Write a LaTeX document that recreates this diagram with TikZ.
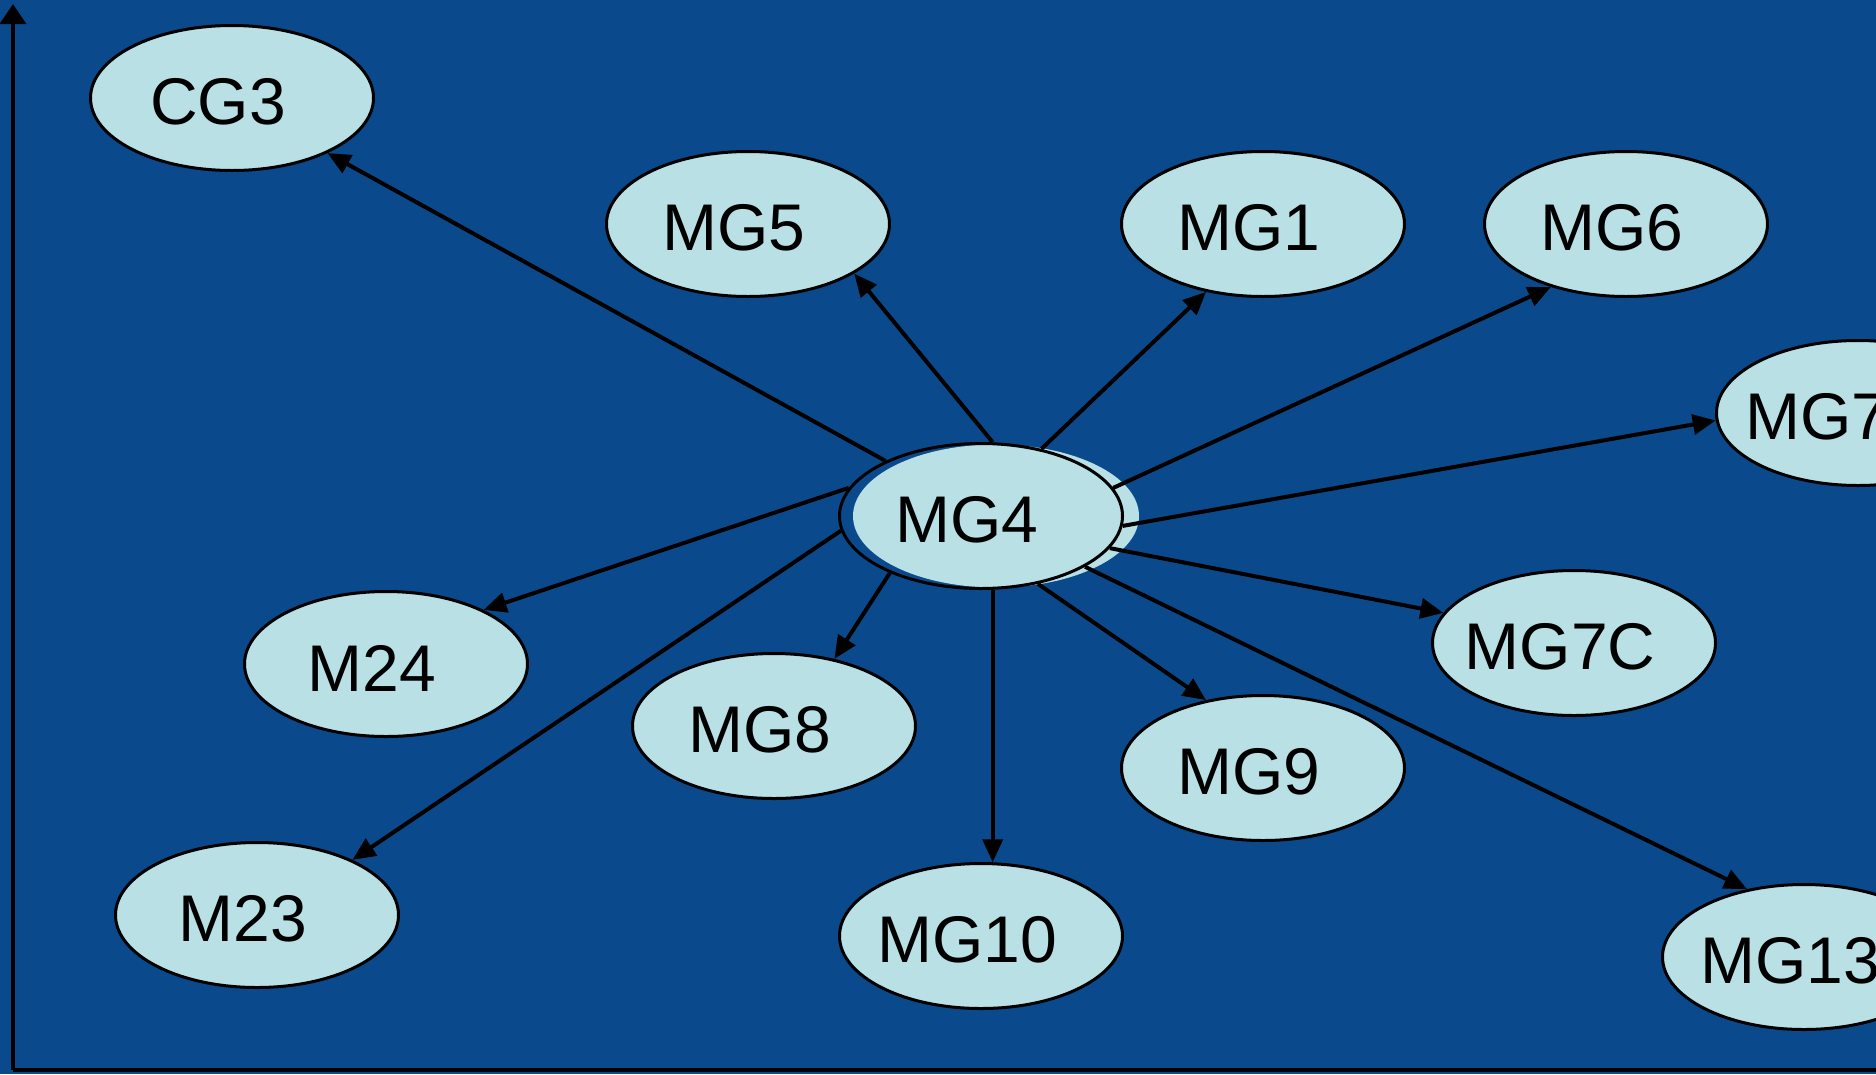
\documentclass[tikz,border=0pt]{standalone}
\usepackage{fontspec}
\setmainfont{Liberation Sans}
\usetikzlibrary{shapes.geometric,arrows.meta}
\definecolor{bgblue}{RGB}{10,74,140}
\definecolor{nodefill}{RGB}{185,224,228}
\newcommand\nlab[2][-28pt]{\hspace*{#1}\raisebox{-4pt}[\height][\depth]{#2}}
\tikzset{
  gnode/.style={ellipse, draw=black, line width=3pt, fill=nodefill,
    minimum width=283pt, minimum height=145pt, inner sep=0pt,
    font=\fontsize{66}{70}\selectfont},
  gfill/.style={ellipse, fill=nodefill, draw=none,
    minimum width=286pt, minimum height=143pt, inner sep=0pt},
  conn/.style={line width=4pt, -{Triangle[length=23pt,width=20pt]}},
  axisline/.style={line width=3.5pt}
}
\begin{document}
\begin{tikzpicture}[x=1pt,y=-1pt]
\useasboundingbox (0,0) rectangle (1876,1074);
\clip (0,0) rectangle (1876,1074);
\fill[bgblue] (0,0) rectangle (1876,1074);
% axes
\coordinate (origin) at (13,1070);
\coordinate (ytop) at (13,4);
\coordinate (xend) at (1890,1070);
\draw[axisline, -{Triangle[length=20pt,width=26pt]}] (origin) -- (ytop);
\draw[axisline] (origin) -- (xend);
% nodes
\node[gnode] (cg3)  at (232,98)  {\nlab{CG3}};
\node[gnode] (mg5)  at (748,224) {\nlab{MG5}};
\node[gnode] (mg1)  at (1263,224) {\nlab{MG1}};
\node[gnode] (mg6)  at (1626,224) {\nlab{MG6}};
\node[gnode] (mg7)  at (1858,413) {\nlab[-82pt]{MG7}};
\node[gnode] (m24)  at (386,664) {\nlab{M24}};
\node[gnode] (mg8)  at (774,726) {\nlab{MG8}};
\node[gnode] (mg7c) at (1574,643) {\nlab{MG7C}};
\node[gnode] (mg9)  at (1263,768) {\nlab{MG9}};
\node[gnode] (m23)  at (257,915) {\nlab{M23}};
\node[gnode] (mg10) at (981,936) {\nlab{MG10}};
\node[gnode] (mg13) at (1804,957) {\nlab{MG13}};
% central node: offset fill and outline
\node[gfill] (mg4fill) at (996,516) {};
\node[gnode, fill=none] (mg4) at (981,516) {\nlab{MG4}};
% connectors
\draw[conn] (mg4.150) -- (cg3.-30);
\draw[conn] (mg4.81) -- (mg5.-25);
\draw[conn] (mg4.48) -- (mg1.-130);
\draw[conn] (mg4.12) -- (mg6.-140);
\draw[conn] (mg4.-4) -- (mg7.-177);
\draw[conn] (mg4.-14) -- (mg7c.167);
\draw[conn] (mg4.-26) -- (mg13.130);
\draw[conn] (mg4.-50) -- (mg9.130);
\draw[conn] (mg4.-81) -- (mg10.81);
\draw[conn] (mg4.-148) -- (mg8.48);
\draw[conn] (mg4.-174) -- (m23.30);
\draw[conn] (mg4.168) -- (m24.29);
\end{tikzpicture}
\end{document}
